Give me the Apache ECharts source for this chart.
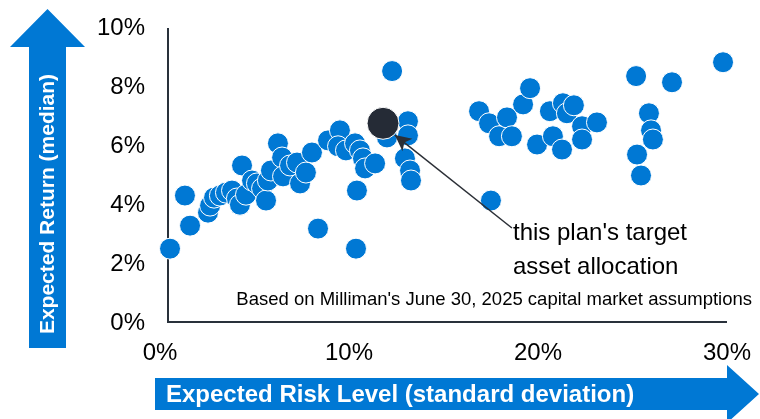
<!DOCTYPE html>
<html>
<head>
<meta charset="utf-8">
<script src="https://cdn.jsdelivr.net/npm/echarts@6/dist/echarts.min.js"></script>
<style>
  html, body { margin: 0; padding: 0; background: #fff; }
  #chart { width: 760px; height: 419px; }
</style>
</head>
<body>
<div id="chart"></div>
<script>
// portfolios: [risk %, return %]
var portfolioRisk = [
  0.53, 1.32, 1.59, 2.54, 2.65, 2.86, 3.17, 3.49, 3.81, 4.07,
  4.23, 4.34, 4.55, 4.87, 5.13, 5.40, 5.61, 5.71, 5.87, 6.24,
  6.46, 6.51, 6.88, 7.25, 7.41, 7.72, 8.04, 8.36, 8.89, 9.52,
  9.42, 9.84, 10.32, 10.58, 10.42, 10.37, 10.74, 10.85, 11.38, 12.01,
  12.28, 13.12, 13.12, 12.96, 13.23, 13.28,
  16.88, 17.41, 17.51, 17.94, 18.36, 18.62, 19.21, 19.58, 19.95, 20.63,
  20.79, 21.27, 21.32, 21.53, 21.90, 22.33, 22.33, 23.12,
  25.19, 25.24, 25.45, 25.87, 25.98, 26.08, 27.09, 29.79
];
var portfolioReturn = [
  2.52, 4.32, 3.30, 3.74, 3.98, 4.25, 4.32, 4.42, 4.49, 4.22,
  4.01, 5.34, 4.35, 4.83, 4.73, 4.56, 4.15, 4.83, 5.17, 6.09,
  5.61, 4.97, 5.34, 5.44, 4.73, 5.10, 5.78, 3.20, 6.19, 6.53,
  5.99, 5.85, 6.09, 5.85, 4.49, 2.52, 5.58, 5.24, 5.41, 6.29,
  8.54, 6.84, 6.36, 5.58, 5.17, 4.83,
  7.18, 6.77, 4.15, 6.33, 6.97, 6.33, 7.41, 7.96, 6.05, 7.18,
  6.33, 5.88, 7.45, 7.11, 7.38, 6.67, 6.22, 6.80,
  8.37, 5.71, 5.00, 7.11, 6.53, 6.22, 8.16, 8.84
];

// this plan's target allocation
var targetPoint = [11.80, 6.77];
// annotation arrow: tip on the target dot, tail at the label
var arrowTip = [12.43, 6.37];
var arrowTail = [18.62, 3.22];

var xTicks = [0, 30, 10];   // min, max, interval
var yTicks = [0, 10, 2];

var blue = '#0078d4';
var dark = '#252b36';
var font = '"Liberation Sans", Arial, sans-serif';

var points = [];
for (var i = 0; i < portfolioRisk.length; i++) {
  points.push([portfolioRisk[i], portfolioReturn[i]]);
}

var chart = echarts.init(document.getElementById('chart'));

chart.setOption({
  animation: false,
  grid: { left: 160, right: 33, top: 28, bottom: 96 },
  xAxis: {
    type: 'value',
    min: xTicks[0], max: xTicks[1], interval: xTicks[2],
    axisLine: { show: false },
    axisTick: { show: false },
    splitLine: { show: false },
    axisLabel: {
      formatter: '{value}%', color: '#000', fontSize: 24,
      fontFamily: font, margin: 18
    }
  },
  yAxis: {
    type: 'value',
    min: yTicks[0], max: yTicks[1], interval: yTicks[2],
    axisLine: { show: false },
    axisTick: { show: false },
    splitLine: { show: false },
    axisLabel: {
      formatter: '{value}%', color: '#000', fontSize: 24,
      fontFamily: font, margin: 15
    }
  },
  graphic: [
    // axis frame
    {
      type: 'polyline', z: 0,
      shape: { points: [[168, 28], [168, 322], [727, 322]] },
      style: { stroke: '#29313b', lineWidth: 2, fill: null }
    },
    // y title arrow
    {
      type: 'polygon',
      shape: { points: [[29, 348], [29, 47], [10, 47], [47.5, 9], [85, 47], [66, 47], [66, 348]] },
      style: { fill: blue }
    },
    {
      type: 'text', x: 48, y: 204, rotation: Math.PI / 2,
      style: {
        text: 'Expected Return (median)', fill: '#fff',
        font: 'bold 21px ' + font, align: 'center', verticalAlign: 'middle'
      }
    },
    // x title arrow
    {
      type: 'polygon',
      shape: { points: [[155, 378], [727, 378], [727, 365], [759, 394], [727, 423], [727, 410], [155, 410]] },
      style: { fill: blue }
    },
    {
      type: 'text', x: 166, y: 395,
      style: {
        text: 'Expected Risk Level (standard deviation)', fill: '#fff',
        font: 'bold 24px ' + font, align: 'left', verticalAlign: 'middle'
      }
    },
    // note
    {
      type: 'text', x: 752, y: 300,
      style: {
        text: "Based on Milliman's June 30, 2025 capital market assumptions", fill: '#000',
        font: '18.5px ' + font, align: 'right', verticalAlign: 'middle'
      }
    },
    // annotation label
    {
      type: 'text', x: 513, y: 216,
      style: {
        text: "this plan's target\nasset allocation", fill: '#000',
        font: '24px ' + font, lineHeight: 34, align: 'left', verticalAlign: 'top'
      }
    }
  ],
  series: [
    {
      name: 'Portfolios',
      type: 'scatter',
      z: 2,
      symbolSize: 21,
      itemStyle: { color: blue, borderColor: '#fff', borderWidth: 1, opacity: 1 },
      data: points
    },
    {
      name: 'Target',
      type: 'scatter',
      z: 3,
      symbolSize: 32,
      itemStyle: { color: dark, borderColor: '#fff', borderWidth: 1, opacity: 1 },
      data: [targetPoint],
      markLine: {
        silent: true,
        symbol: ['arrow', 'none'],
        symbolSize: [12, 16],
        label: { show: false },
        lineStyle: { color: '#2b2f36', width: 1.5, type: 'solid' },
        data: [[{ coord: arrowTip }, { coord: arrowTail }]]
      }
    }
  ]
});
</script>
</body>
</html>
